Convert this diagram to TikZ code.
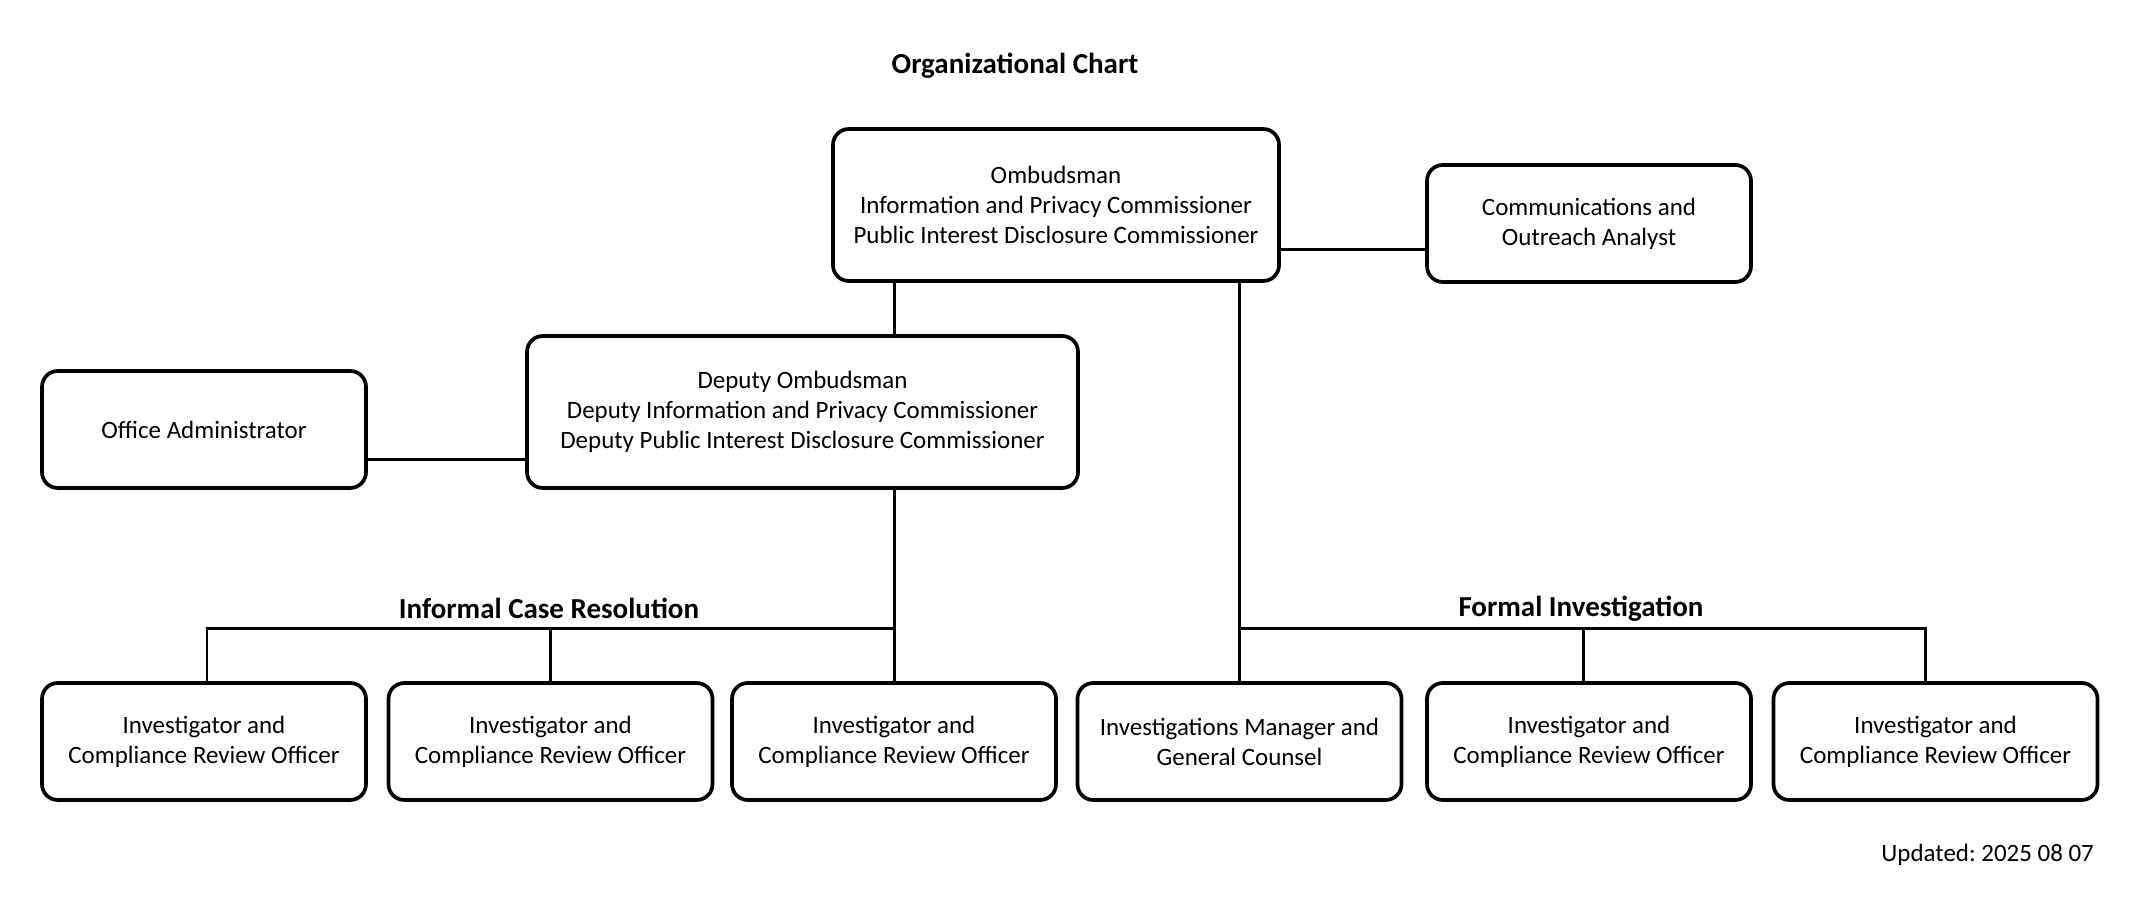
\documentclass[tikz,border=0pt]{standalone}
\usepackage{fontspec}
\setmainfont{Carlito}
\usepackage{tikz}
\usetikzlibrary{positioning,calc}

\begin{document}
\begin{tikzpicture}[
  every node/.style={font=\fontsize{14.2}{17}\selectfont},
  unit/.style={rectangle, rounded corners=9pt, draw=black, line width=2.1pt, fill=white,
               minimum width=6.48cm, minimum height=2.34cm, align=center, inner sep=3pt},
  lead/.style={unit, minimum height=3.04cm},
  conn/.style={line width=1.7pt, black},
  grouplbl/.style={font=\fontsize{16.5}{19}\selectfont\bfseries}
]
  \useasboundingbox (0,0) rectangle (42.96,18.14);
  % ---- title ----
  \node[grouplbl] (title) at (20.30,16.82) {Organizational Chart};
  % ---- top levels ----
  \node[lead, minimum width=8.92cm] (omb) at (21.12,14.04)
       {Ombudsman\\Information and Privacy Commissioner\\Public Interest Disclosure Commissioner};
  \node[unit] (comm) at (31.78,13.67) {Communications and\\Outreach Analyst};
  \node[lead, minimum width=11.02cm] (dep) at (16.05,9.90)
       {Deputy Ombudsman\\Deputy Information and Privacy Commissioner\\Deputy Public Interest Disclosure Commissioner};
  \node[unit] (admin) at (4.08,9.55) {Office Administrator};
  % ---- bottom row ----
  \node[unit] (ic1) at (4.08,3.31)  {Investigator and\\Compliance Review Officer};
  \node[unit] (ic2) at (11.01,3.31) {Investigator and\\Compliance Review Officer};
  \node[unit] (ic3) at (17.88,3.31) {Investigator and\\Compliance Review Officer};
  \node[unit] (fi1) at (24.79,3.31) {Investigations Manager and\\General Counsel};
  \node[unit] (fi2) at (31.78,3.31) {Investigator and\\Compliance Review Officer};
  \node[unit] (fi3) at (38.71,3.31) {Investigator and\\Compliance Review Officer};
  \node[grouplbl] (icr) at (10.98,5.98) {Informal Case Resolution};
  \node[grouplbl] (fin) at (31.62,5.96) {Formal Investigation};
  \node[anchor=east] (upd) at (42.00,1.04) {Updated:\ 2025 08 07};
  % ---- connectors ----
  \coordinate (commlink) at (0,13.14);
  \coordinate (adminlink) at (0,8.94);
  \coordinate (bus) at (0,5.56);
  \draw[conn] (omb.east |- commlink) -- (comm.west |- commlink);
  \draw[conn] (admin.east |- adminlink) -- (dep.west |- adminlink);
  \draw[conn] (omb.south -| ic3) -- (dep.north -| ic3);
  \draw[conn] (dep.south -| ic3) -- (ic3.north);
  \draw[conn] ([xshift=0.06cm]ic1.north) |- (bus -| ic3);
  \draw[conn] (ic2.north) -- (bus -| ic2);
  \draw[conn] (omb.south -| fi1) -- (fi1.north);
  \draw[conn] ([xshift=-0.21cm]fi3.north) |- (bus -| fi1);
  \draw[conn] ([xshift=-0.11cm]fi2.north) |- (bus -| fi1);
\end{tikzpicture}
\end{document}
